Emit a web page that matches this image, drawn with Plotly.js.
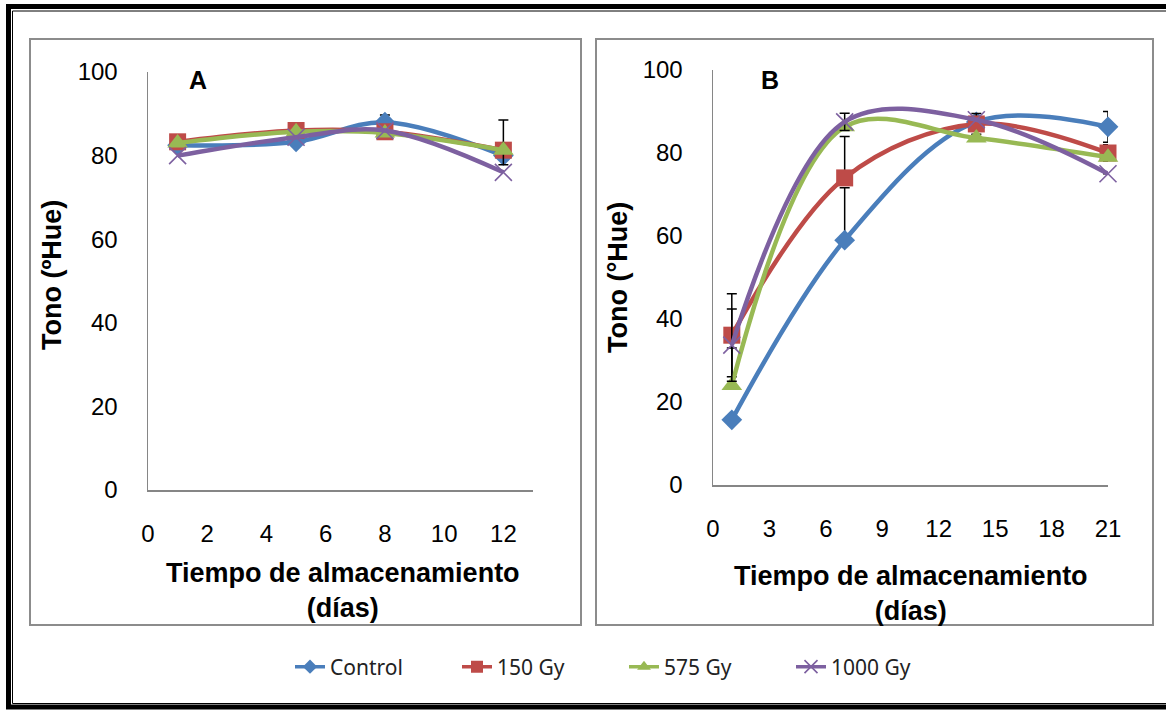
<!DOCTYPE html>
<html>
<head>
<meta charset="utf-8">
<script src="https://cdn.plot.ly/plotly-3.0.1.min.js"></script>
<style>html,body{margin:0;padding:0;background:#fff;}#chart{width:1166px;height:711px;}</style>
</head>
<body>
<div id="chart"></div>
<script>
// ---- Data ----
const seriesNames = ["Control", "150 Gy", "575 Gy", "1000 Gy"];
const daysA = [1, 5, 8, 12];
const A_control = [82.5, 83.3, 88.0, 80.0];
const A_150 = [83.3, 86.0, 85.7, 81.3];
const A_575 = [83.0, 85.7, 85.4, 81.3];
const A_1000 = [80.0, 84.4, 86.0, 76.0];
const A_err_control = [0, 0, 1.7, 0];
const A_err_575_plus = [0, 0, 0, 7.2];
const A_err_575_minus = [0, 0, 0, 3.5];

const daysB = [1, 7, 14, 21];
const B_control = [15.7, 59.0, 87.5, 86.3];
const B_150 = [36.1, 74.0, 87.0, 80.0];
const B_575 = [24.0, 86.3, 83.6, 79.0];
const B_1000 = [33.7, 87.5, 88.0, 75.0];
const B_err_control_plus = [0, 12.6, 0, 3.7];
const B_err_control_minus = [0, 0, 0, 3.7];
const B_err_150_plus = [10.0, 10.0, 2.5, 2.0];
const B_err_150_minus = [10.0, 0, 2.5, 2.0];
const B_err_575_plus = [9.0, 0, 0, 0];
const B_err_575_minus = [0, 0, 0, 0];
const B_err_1000 = [8.7, 2.1, 0, 0];

const xTicksA = [0, 2, 4, 6, 8, 10, 12];
const xTicksB = [0, 3, 6, 9, 12, 15, 18, 21];
const yTicks = [0, 20, 40, 60, 80, 100];

// ---- Styles ----
const colors = ["#4A7EBB", "#BE4B48", "#98B954", "#7D60A0"];
const markers = [
  {symbol: "diamond", size: 16},
  {symbol: "square", size: 17},
  {symbol: "triangle-up", size: 18},
  {symbol: "x-thin-open", size: 17}
];
const legendMarkers = [
  {symbol: "diamond", size: 11},
  {symbol: "square", size: 12},
  {symbol: "triangle-up", size: 12},
  {symbol: "x-thin-open", size: 13}
];

function mk(i, marker) {
  const m = {symbol: marker.symbol, size: marker.size, color: colors[i]};
  if (marker.symbol === "x-thin-open") m.line = {color: colors[i], width: 1.6};
  else m.line = {width: 0};
  return m;
}

function errObj(plus, minus) {
  const e = {type: "data", array: plus, color: "#000", thickness: 1.5, width: 5, visible: true};
  if (minus) { e.symmetric = false; e.arrayminus = minus; }
  return e;
}

const traces = [];
function addSeries(xs, ys, i, xa, ya, err) {
  const t = {
    x: xs, y: ys, xaxis: xa, yaxis: ya, type: "scatter", mode: "lines+markers",
    name: seriesNames[i], showlegend: false,
    line: {color: colors[i], width: 4.5, shape: "spline", smoothing: 1},
    marker: mk(i, markers[i]), cliponaxis: false
  };
  if (err) t.error_y = err;
  traces.push(t);
}

addSeries(daysA, A_control, 0, "x", "y", errObj(A_err_control));
addSeries(daysA, A_150, 1, "x", "y");
addSeries(daysA, A_575, 2, "x", "y", errObj(A_err_575_plus, A_err_575_minus));
addSeries(daysA, A_1000, 3, "x", "y");

addSeries(daysB, B_control, 0, "x2", "y2", errObj(B_err_control_plus, B_err_control_minus));
addSeries(daysB, B_150, 1, "x2", "y2", errObj(B_err_150_plus, B_err_150_minus));
addSeries(daysB, B_575, 2, "x2", "y2", errObj(B_err_575_plus, B_err_575_minus));
addSeries(daysB, B_1000, 3, "x2", "y2", errObj(B_err_1000));

// legend-only traces
for (let i = 0; i < 4; i++) {
  traces.push({
    x: [null], y: [null], xaxis: "x", yaxis: "y", type: "scatter", mode: "lines+markers",
    name: seriesNames[i], showlegend: true,
    line: {color: colors[i], width: 3.5},
    marker: mk(i, legendMarkers[i])
  });
}

const W = 1166, H = 711;
const px = v => v / W;
const py = v => (H - v) / H;

const tickFont = {family: "Liberation Sans, Arial, sans-serif", size: 24, color: "#000"};
const axisCommon = {
  showgrid: false, zeroline: false, showline: true, linecolor: "#868686", linewidth: 1.5,
  ticks: "", tickfont: tickFont, fixedrange: true
};
const titleFont = {family: "Liberation Sans, Arial, sans-serif", size: 27, color: "#000"};

function ann(text, x, y, extra) {
  return Object.assign({text: text, xref: "paper", yref: "paper", x: px(x), y: py(y),
    xanchor: "center", yanchor: "middle", showarrow: false, align: "center", font: titleFont}, extra || {});
}

const layout = {
  width: W, height: H,
  margin: {l: 0, r: 0, t: 0, b: 0},
  paper_bgcolor: "#fff", plot_bgcolor: "rgba(0,0,0,0)",
  showlegend: true,
  legend: {
    orientation: "h", x: px(290), y: py(667), xanchor: "left", yanchor: "middle",
    font: {family: "Noto Sans, Open Sans, sans-serif", size: 21, color: "#222"},
    entrywidth: 122, entrywidthmode: "pixels", itemwidth: 30, tracegroupgap: 0
  },
  xaxis: Object.assign({}, axisCommon, {
    domain: [px(148), px(533)], range: [0, 13], tickvals: xTicksA, anchor: "y",
    ticklabelstandoff: 22
  }),
  yaxis: Object.assign({}, axisCommon, {
    domain: [py(490), py(72)], range: [0, 100], tickvals: yTicks, anchor: "x",
    ticklabelstandoff: 24
  }),
  xaxis2: Object.assign({}, axisCommon, {
    domain: [px(713), px(1108)], range: [0, 21], tickvals: xTicksB, anchor: "y2",
    ticklabelstandoff: 22
  }),
  yaxis2: Object.assign({}, axisCommon, {
    domain: [py(485), py(70)], range: [0, 100], tickvals: yTicks, anchor: "x2",
    ticklabelstandoff: 24
  }),
  shapes: [
    {type: "rect", xref: "paper", yref: "paper", x0: px(8.5), x1: px(1172), y0: py(707), y1: py(6.5),
     line: {color: "#000", width: 5}},
    {type: "rect", xref: "paper", yref: "paper", x0: px(12.5), x1: px(1172), y0: py(703.5), y1: py(11),
     line: {color: "#000", width: 1}},
    {type: "rect", xref: "paper", yref: "paper", x0: px(30), x1: px(581), y0: py(625), y1: py(39),
     line: {color: "#8C8C8C", width: 2}},
    {type: "rect", xref: "paper", yref: "paper", x0: px(596), x1: px(1153), y0: py(625), y1: py(39),
     line: {color: "#8C8C8C", width: 2}}
  ],
  annotations: [
    ann("<b>A</b>", 198, 80, {font: {family: "Liberation Sans, Arial, sans-serif", size: 25, color: "#000"}}),
    ann("<b>B</b>", 770, 80, {font: {family: "Liberation Sans, Arial, sans-serif", size: 25, color: "#000"}}),
    ann("<b>Tono (ºHue)</b>", 52, 275, {textangle: -90}),
    ann("<b>Tono (°Hue)</b>", 618, 278, {textangle: -90}),
    ann("<b>Tiempo de almacenamiento</b><br><b>(días)</b>", 343, 590),
    ann("<b>Tiempo de almacenamiento</b><br><b>(días)</b>", 911, 593)
  ]
};

Plotly.newPlot("chart", traces, layout, {displayModeBar: false, staticPlot: true});
</script>
</body>
</html>
